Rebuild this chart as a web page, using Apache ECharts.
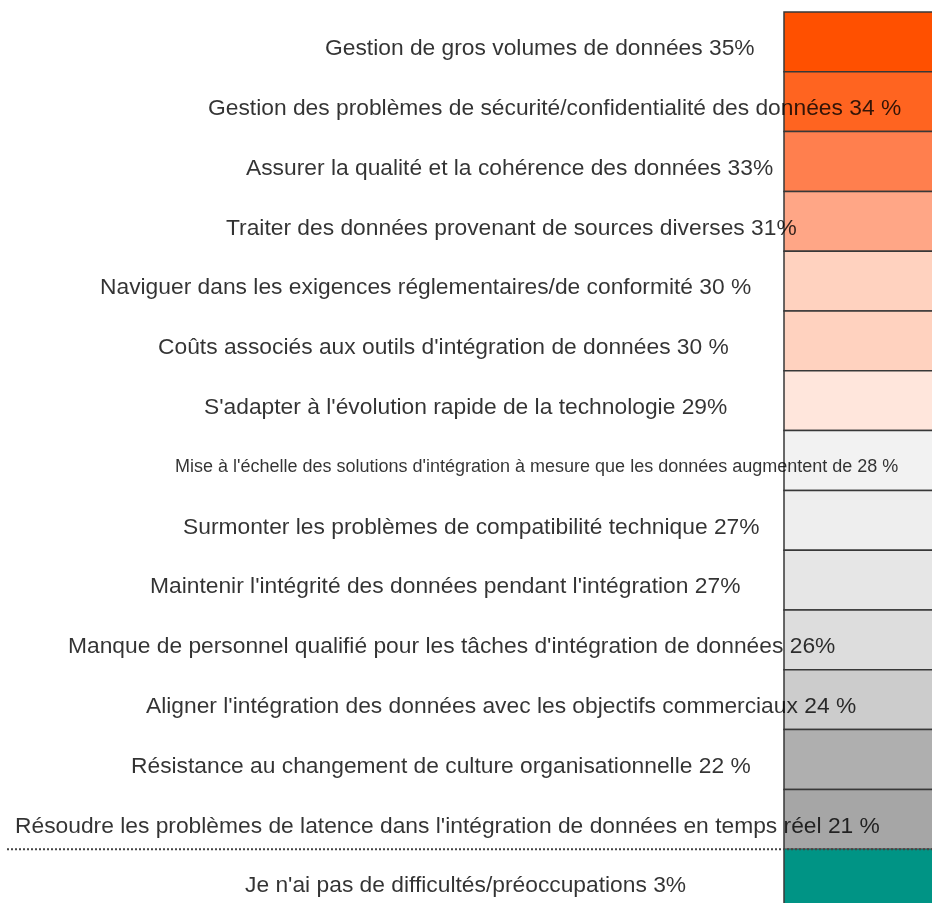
<!DOCTYPE html>
<html>
<head>
<meta charset="utf-8">
<script src="https://cdn.jsdelivr.net/npm/echarts@6/dist/echarts.min.js"></script>
<style>
  html, body { margin: 0; padding: 0; background: #fff; }
  #chart { width: 932px; height: 903px; }
</style>
</head>
<body>
<div id="chart"></div>
<script>
// Data
const categories = [
  "Gestion de gros volumes de données",
  "Gestion des problèmes de sécurité/confidentialité des données",
  "Assurer la qualité et la cohérence des données",
  "Traiter des données provenant de sources diverses",
  "Naviguer dans les exigences réglementaires/de conformité",
  "Coûts associés aux outils d'intégration de données",
  "S'adapter à l'évolution rapide de la technologie",
  "Mise à l'échelle des solutions d'intégration à mesure que les données augmentent de",
  "Surmonter les problèmes de compatibilité technique",
  "Maintenir l'intégrité des données pendant l'intégration",
  "Manque de personnel qualifié pour les tâches d'intégration de données",
  "Aligner l'intégration des données avec les objectifs commerciaux",
  "Résistance au changement de culture organisationnelle",
  "Résoudre les problèmes de latence dans l'intégration de données en temps réel",
  "Je n'ai pas de difficultés/préoccupations"
];
const percents = [35, 34, 33, 31, 30, 30, 29, 28, 27, 27, 26, 24, 22, 21, 3];
// the source writes some values as "34 %" and others as "35%"
const spaceBeforePct = [false, true, false, false, true, true, false, true, false, false, false, true, true, true, false];

// Styling / layout (kept apart from the data)
const cellColors = [
  "#ff5000", "#ff6420", "#ff7f4e", "#ffa686", "#ffd2bf", "#ffd2bf", "#ffe6dc",
  "#f2f2f2", "#eeeeee", "#e6e6e6", "#dddddd", "#cccccc", "#afafaf", "#a6a6a6",
  "#009485"
];
const labelLeft = [325, 208, 246, 226, 100, 158, 204, 175, 183, 150, 68, 146, 131, 15, 245];
const labelSize = [22.8, 22.8, 22.8, 22.8, 22.8, 22.8, 22.8, 18, 22.8, 22.8, 22.8, 22.8, 22.8, 22.8, 22.8];
const separatorRow = 14;      // dotted rule drawn above this row
const separatorLeft = 7;      // where the dotted rule starts (px)
const borderColor = "#383838";

const chart = echarts.init(document.getElementById("chart"));

chart.setOption({
  animation: false,
  backgroundColor: "#ffffff",
  grid: [
    { left: 7, right: 0, top: 12, height: 897, outerBoundsMode: "none" },
    { left: 784, right: -10, top: 12, height: 897, outerBoundsMode: "none" }
  ],
  xAxis: [
    { gridIndex: 0, type: "value", min: 7, max: 932, show: false },
    { gridIndex: 1, type: "value", min: 0, max: 1, show: false }
  ],
  yAxis: [
    { gridIndex: 0, type: "category", data: categories, inverse: true, show: false },
    { gridIndex: 1, type: "category", data: categories, inverse: true, show: false }
  ],
  series: [
    {
      type: "custom",
      xAxisIndex: 1,
      yAxisIndex: 1,
      silent: true,
      data: percents.map((v, i) => [0, i, v]),
      encode: { x: 0, y: 1 },
      renderItem: (params, api) => {
        const cs = params.coordSys;
        const yc = api.coord([0, api.value(1)])[1];
        const h = api.size([0, 1])[1];
        const top = yc - h / 2;
        const isSep = params.dataIndex === separatorRow;
        const children = [{
          type: "rect",
          shape: { x: cs.x, y: top, width: cs.width, height: h },
          style: isSep
            ? { fill: cellColors[params.dataIndex] }
            : { fill: cellColors[params.dataIndex], stroke: borderColor, lineWidth: 1.5 }
        }];
        if (isSep) {
          // left edge of the last cell, then the dotted rule across the page
          children.push({
            type: "line",
            shape: { x1: cs.x, y1: top, x2: cs.x, y2: top + h },
            style: { stroke: borderColor, lineWidth: 1.5 }
          });
          children.push({
            type: "line",
            z2: 10,
            shape: { x1: separatorLeft, y1: top, x2: cs.x + cs.width, y2: top },
            style: { stroke: "#444", lineWidth: 2, lineDash: [2, 2] }
          });
        }
        return { type: "group", children };
      }
    },
    {
      type: "scatter",
      xAxisIndex: 0,
      yAxisIndex: 0,
      silent: true,
      symbolSize: 1,
      itemStyle: { color: "rgba(0,0,0,0)" },
      z: 10,
      data: categories.map((c, i) => ({
        value: [labelLeft[i], i],
        label: { fontSize: labelSize[i] }
      })),
      label: {
        show: true,
        position: "inside",
        align: "left",
        verticalAlign: "middle",
        offset: [0, 7],
        color: "#000",
        fontFamily: "'Liberation Sans', Arial, sans-serif",
        fontSize: 22.8,
        formatter: (p) => {
          const i = p.dataIndex;
          return categories[i] + " " + percents[i] + (spaceBeforePct[i] ? " %" : "%");
        }
      }
    }
  ]
});
</script>
</body>
</html>
